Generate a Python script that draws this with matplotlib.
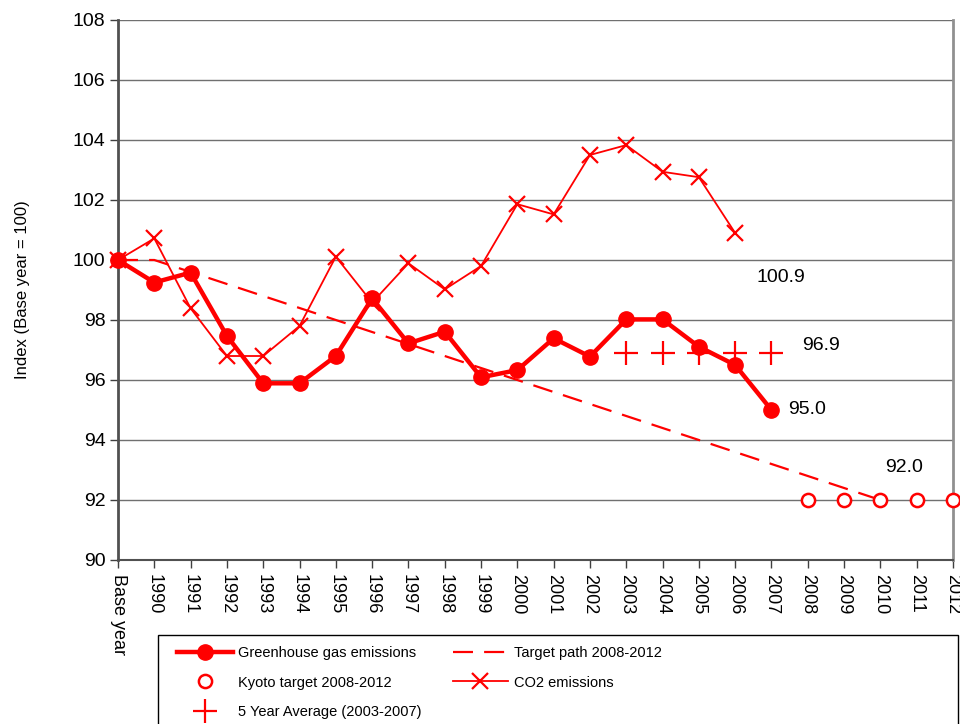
import numpy as np
import matplotlib
matplotlib.use('Agg')
from matplotlib import pyplot as plt
from matplotlib.patches import Rectangle

plt.rcParams['font.family'] = ['Liberation Sans', 'DejaVu Sans']

years = ['Base year', '1990', '1991', '1992', '1993', '1994', '1995', '1996', '1997',
         '1998', '1999', '2000', '2001', '2002', '2003', '2004', '2005', '2006',
         '2007', '2008', '2009', '2010', '2011', '2012']

# greenhouse gas emissions, Base year .. 2007
ghg = [100.0, 99.25, 99.58, 97.47, 95.89, 95.89, 96.8, 98.72, 97.22, 97.61,
       96.09, 96.33, 97.39, 96.78, 98.02, 98.02, 97.11, 96.5, 95.0]
# CO2 emissions, Base year .. 2006
co2 = [100.0, 100.72, 98.39, 96.8, 96.8, 97.8, 100.11, 98.58, 99.89, 99.02,
       99.8, 101.86, 101.52, 103.5, 103.83, 102.94, 102.76, 100.9]
# target path, Base year .. 2010
target = [100.0, 100.0, 99.6, 99.2, 98.8, 98.4, 98.0, 97.6, 97.2, 96.8, 96.4,
          96.0, 95.6, 95.2, 94.8, 94.4, 94.0, 93.6, 93.2, 92.8, 92.4, 92.0]
# Kyoto target, 2008 .. 2012
kyoto = [92.0, 92.0, 92.0, 92.0, 92.0]
# 5 year average, 2003 .. 2007
avg5 = [96.9, 96.9, 96.9, 96.9, 96.9]

red = '#FF0000'
x = np.arange(len(years))
i2003 = years.index('2003')
i2008 = years.index('2008')

fig = plt.figure(figsize=(9.6, 7.24), dpi=100)
ax = fig.add_axes([118 / 960, 1 - 560 / 724, (953 - 118) / 960, 540 / 724])

ax.plot(x[:len(target)], target, color=red, lw=1.6, dashes=(9, 5),
        label='Target path 2008-2012', clip_on=False)
ax.plot(x[:len(co2)], co2, color=red, lw=1.3, marker='x', ms=12, mew=1.6,
        label='CO2 emissions', clip_on=False)
ax.plot(x[:len(ghg)], ghg, color=red, lw=3.2, marker='o', ms=11,
        label='Greenhouse gas emissions', clip_on=False, zorder=4)
ax.plot(x[i2008:i2008 + len(kyoto)], kyoto, ls='none', marker='o', ms=9.5,
        mfc='white', mec=red, mew=1.8, label='Kyoto target 2008-2012',
        clip_on=False, zorder=5)
ax.plot(x[i2003:i2003 + len(avg5)], avg5, ls='none', marker='+', ms=17,
        mew=1.6, color=red, label='5 Year Average (2003-2007)', clip_on=False,
        zorder=5)

# value labels
ax.annotate(f'{co2[-1]:.1f}', (len(co2) - 1, co2[-1]), xytext=(21, -45),
            textcoords='offset pixels', fontsize=14, va='center')
ax.annotate(f'{avg5[-1]:.1f}', (i2003 + len(avg5) - 1, avg5[-1]), xytext=(31, 8),
            textcoords='offset pixels', fontsize=14, va='center')
ax.annotate(f'{ghg[-1]:.1f}', (len(ghg) - 1, ghg[-1]), xytext=(17, 0),
            textcoords='offset pixels', fontsize=14, va='center')
ax.annotate(f'{kyoto[2]:.1f}', (i2008 + 2, kyoto[2]), xytext=(5, 32),
            textcoords='offset pixels', fontsize=14, va='center')

ax.set_xlim(0, len(years) - 1)
ax.set_ylim(90, 108)
ax.set_yticks(np.arange(90, 109, 2))
ax.set_xticks(x)
ax.set_xticklabels(years, rotation=-90, fontsize=13, va='top', ha='center')
ax.tick_params(axis='y', labelsize=14, length=6, width=1, color='#404040', pad=3)
ax.tick_params(axis='x', length=6, width=1, color='#404040', pad=4)
ax.set_ylabel('Index (Base year = 100)', fontsize=12, labelpad=31)

ax.grid(axis='y', color='#707070', lw=1)
ax.set_axisbelow(True)
ax.spines['top'].set_visible(False)
ax.spines['left'].set_color('#505050')
ax.spines['left'].set_linewidth(2)
ax.spines['right'].set_color('#909090')
ax.spines['right'].set_linewidth(2)
ax.spines['bottom'].set_color('#505050')
ax.spines['bottom'].set_linewidth(1.5)

h, l = ax.get_legend_handles_labels()
order = [2, 3, 4, 0, 1]
fig.legend([h[k] for k in order], [l[k] for k in order], ncol=2,
           loc='upper left', bbox_to_anchor=(167 / 960, 1 - 636 / 724),
           frameon=False, fontsize=10.5, handlelength=3.8, handletextpad=0.4,
           columnspacing=2.1, labelspacing=1.05, borderpad=0.2)
fig.patches.append(Rectangle((158 / 960, -0.05), (958 - 158) / 960,
                             1 - 635 / 724 + 0.05, transform=fig.transFigure,
                             fill=False, edgecolor='black', lw=1))

fig.savefig('out.png', dpi=100)
